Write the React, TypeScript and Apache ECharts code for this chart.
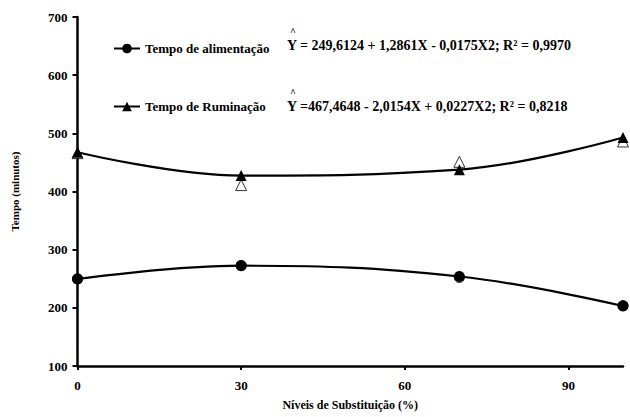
import React, { useEffect, useRef } from "react";
import * as echarts from "echarts";

const levels = [0, 30, 70, 100];
const alimentacaoFit = [249.6, 272.4, 253.9, 203.2];
const ruminacaoFit = [467.5, 427.4, 437.6, 492.9];
const alimentacaoObs = [250, 273, 252, 204];
const ruminacaoObs = [466, 411, 451, 486];
const xTicks = [0, 30, 60, 90];
const seriesNames = ["Tempo de alimentação", "Tempo de Ruminação"];
const equations = [
  "Y = 249,6124 + 1,2861X - 0,0175X2; R² = 0,9970",
  "Y =467,4648 - 2,0154X + 0,0227X2; R² = 0,8218",
];

const FONT = "'Liberation Serif', 'Times New Roman', serif";

export default function App() {
  const ref = useRef<HTMLDivElement>(null);
  useEffect(() => {
    if (!ref.current) return;
    const chart = echarts.init(ref.current, undefined, { renderer: "svg" });
    const pair = (xs: number[], ys: number[]) => xs.map((x, i) => [x, ys[i]]);
    const txt = { fontFamily: FONT, fontWeight: "bold" as const, color: "#000" };
    chart.setOption({
      animation: false,
      backgroundColor: "#fff",
      grid: { left: 77.5, right: 7, top: 17, bottom: 51 },
      legend: {
        data: seriesNames,
        orient: "vertical",
        left: 108,
        top: 37,
        itemGap: 45,
        itemWidth: 26,
        itemHeight: 12,
        textStyle: { ...txt, fontSize: 13 },
      },
      graphic: equations.flatMap((eq, i) => [
        {
          type: "text",
          left: 287,
          top: 38 + i * 61,
          style: { text: eq, font: `bold 14px ${FONT}`, fill: "#000" },
        },
        {
          type: "text",
          left: 290,
          top: 26 + i * 61,
          style: { text: "^", font: `bold 10px ${FONT}`, fill: "#000" },
        },
      ]),
      xAxis: {
        type: "value",
        min: 0,
        max: 100,
        interval: 30,
        name: "Níveis de Substituição (%)",
        nameLocation: "middle",
        nameGap: 33,
        nameTextStyle: { ...txt, fontSize: 12 },
        splitLine: { show: false },
        axisLine: { onZero: false, lineStyle: { color: "#000", width: 2.5 } },
        axisTick: { show: true, length: 4, customValues: xTicks, lineStyle: { color: "#000", width: 2 } },
        axisLabel: { ...txt, fontSize: 13, margin: 13, customValues: xTicks },
      },
      yAxis: {
        type: "value",
        min: 100,
        max: 700,
        interval: 100,
        name: "Tempo (minutos)",
        nameLocation: "middle",
        nameRotate: 90,
        nameGap: 57,
        nameTextStyle: { ...txt, fontSize: 11 },
        splitLine: { show: false },
        axisLine: { show: true, lineStyle: { color: "#000", width: 2.5 } },
        axisTick: { show: true, length: 5, lineStyle: { color: "#000", width: 2 } },
        axisLabel: { ...txt, fontSize: 13, margin: 10 },
      },
      series: [
        {
          name: "obs-alim",
          type: "scatter",
          data: pair(levels, alimentacaoObs),
          symbol: "circle",
          symbolSize: 10,
          itemStyle: { color: "#fff", borderColor: "#000", borderWidth: 1 },
          z: 1,
        },
        {
          name: seriesNames[0],
          type: "line",
          smooth: 0.4,
          data: pair(levels, alimentacaoFit),
          symbol: "circle",
          symbolSize: 11,
          showAllSymbol: true,
          lineStyle: { color: "#000", width: 2.2 },
          itemStyle: { color: "#000" },
          z: 3,
        },
        {
          name: seriesNames[1],
          type: "line",
          smooth: 0.4,
          data: pair(levels, ruminacaoFit),
          symbol: "triangle",
          symbolSize: 11,
          lineStyle: { color: "#000", width: 2.2 },
          itemStyle: { color: "#000" },
          z: 3,
        },
        {
          name: "obs-rum",
          type: "scatter",
          data: pair(levels, ruminacaoObs),
          symbol: "triangle",
          symbolSize: 11,
          itemStyle: { color: "#fff", borderColor: "#000", borderWidth: 1 },
          z: 2,
        },
      ],
    });
    return () => chart.dispose();
  }, []);
  return (
    <div
      ref={ref}
      style={{ position: "absolute", left: 0, top: 0, width: 630, height: 417 }}
    />
  );
}
